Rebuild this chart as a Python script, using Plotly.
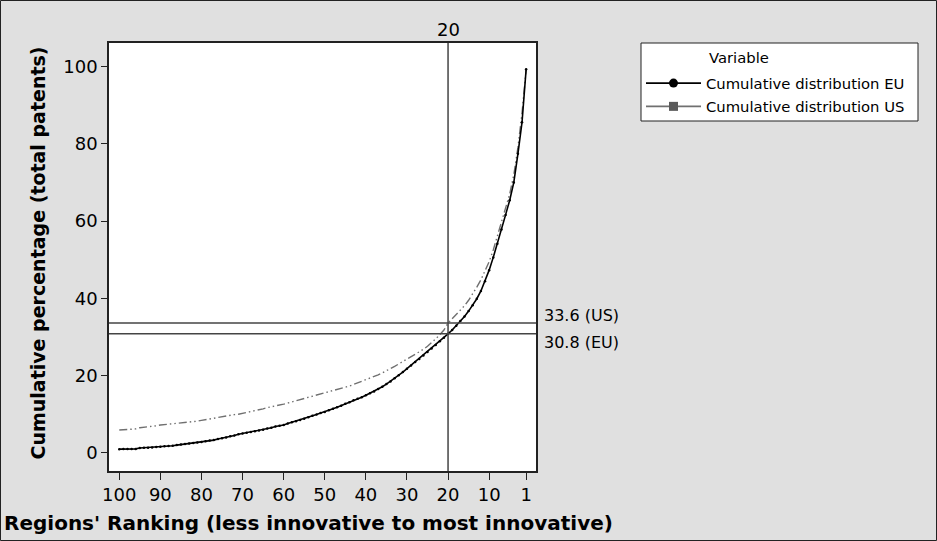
import plotly.graph_objects as go

# Regions' ranking (100 = least innovative ... 1 = most innovative)
ranks = list(range(100, 0, -1))

# Cumulative percentage, EU (ranks 100 -> 1)
eu_values = [
    0.96, 0.98, 1.0, 1.0, 1.02, 1.25, 1.3, 1.35, 1.4, 1.5,
    1.6, 1.7, 1.8, 1.85, 2.0, 2.15, 2.3, 2.45, 2.55, 2.7,
    2.8, 3.0, 3.2, 3.3, 3.6, 3.8, 4.0, 4.3, 4.5, 4.8,
    5.0, 5.2, 5.4, 5.6, 5.8, 6.0, 6.3, 6.5, 6.8, 7.0,
    7.2, 7.6, 7.9, 8.2, 8.5, 8.8, 9.2, 9.6, 9.9, 10.3,
    10.6, 11.0, 11.4, 11.8, 12.2, 12.7, 13.1, 13.6, 14.0, 14.4,
    14.9, 15.4, 15.9, 16.5, 17.1, 17.8, 18.5, 19.3, 20.1, 20.9,
    21.8, 22.6, 23.5, 24.3, 25.2, 26.1, 27.0, 27.9, 28.9, 29.8,
    30.8, 31.8, 32.9, 34.1, 35.3, 36.7, 38.2, 39.9, 41.9, 44.4,
    47.3, 50.6, 54.1, 57.8, 61.6, 65.4, 70.0, 77.4, 85.6, 99.3,
]

# Cumulative percentage, US (ranks 100 -> 1)
us_values = [
    5.9, 6.0, 6.1, 6.2, 6.2, 6.5, 6.6, 6.8, 6.9, 7.0,
    7.2, 7.3, 7.4, 7.5, 7.6, 7.7, 7.8, 8.0, 8.1, 8.2,
    8.4, 8.6, 8.8, 9.0, 9.2, 9.3, 9.5, 9.7, 9.9, 10.0,
    10.2, 10.4, 10.6, 10.9, 11.2, 11.4, 11.7, 11.9, 12.1, 12.3,
    12.6, 12.9, 13.2, 13.5, 13.8, 14.1, 14.4, 14.7, 15.0, 15.2,
    15.4, 15.7, 16.0, 16.3, 16.6, 16.9, 17.3, 17.7, 18.1, 18.4,
    18.8, 19.2, 19.7, 20.2, 20.7, 21.2, 21.8, 22.4, 23.0, 23.6,
    24.2, 24.8, 25.4, 26.1, 26.8, 27.6, 28.5, 29.5, 30.6, 31.8,
    33.6, 34.7, 35.8, 36.9, 38.1, 39.5, 41.1, 42.9, 44.8, 47.0,
    49.5, 52.5, 56.0, 59.5, 63.5, 67.0, 72.0, 79.0, 88.0, 99.2,
]

x_ticks = [100, 90, 80, 70, 60, 50, 40, 30, 20, 10, 1]
y_ticks = [0, 20, 40, 60, 80, 100]
ref_rank = 20
ref_us = 33.6
ref_eu = 30.8

FONT = "DejaVu Sans"
US_GRAY = "#707070"

# pixel helpers for paper coordinates (plot area: x 109..536, y 43..471)
def px(xp):
    return (xp - 109) / 427

def py(yp):
    return (471 - yp) / 428

fig = go.Figure()

fig.add_trace(go.Scatter(
    x=ranks, y=us_values, mode="lines", showlegend=False,
    line=dict(color=US_GRAY, width=1.4, dash="8px,3px,1.5px,3px,1.5px,3px"),
))
fig.add_trace(go.Scatter(
    x=ranks, y=eu_values, mode="lines+markers", showlegend=False,
    line=dict(color="black", width=1.6),
    marker=dict(symbol="circle", size=2.5, color="black"),
))

# legend entries
fig.add_trace(go.Scatter(
    x=[None], y=[None], mode="lines+markers", name="Cumulative distribution EU\u00a0",
    legendgroup="eu",
    line=dict(color="black", width=1.6),
    marker=dict(symbol="circle", size=9, color="black"),
))
fig.add_trace(go.Scatter(
    x=[None], y=[None], mode="lines+markers", name="Cumulative distribution US\u00a0",
    legendgroup="us",
    line=dict(color=US_GRAY, width=1.6),
    marker=dict(symbol="square", size=9, color="#5a5a5a"),
))

# reference lines
fig.add_shape(type="line", xref="x", yref="paper", x0=ref_rank, x1=ref_rank, y0=0, y1=1,
              line=dict(color="#444444", width=1.5))
for v in (ref_us, ref_eu):
    fig.add_shape(type="line", xref="paper", yref="y", x0=0, x1=1, y0=v, y1=v,
                  line=dict(color="#444444", width=1.5))

fig.add_annotation(x=ref_rank, xref="x", y=1, yref="paper", yanchor="bottom", xanchor="center",
                   yshift=1, text=str(ref_rank), showarrow=False,
                   font=dict(size=18, color="black", family=FONT))
fig.add_annotation(x=1, xref="paper", xanchor="left", yanchor="middle", xshift=6, y=ref_us,
                   yref="y", yshift=8, text=f"{ref_us} (US)", showarrow=False,
                   font=dict(size=16, color="black", family=FONT))
fig.add_annotation(x=1, xref="paper", xanchor="left", yanchor="middle", xshift=6, y=ref_eu,
                   yref="y", yshift=-9, text=f"{ref_eu} (EU)", showarrow=False,
                   font=dict(size=16, color="black", family=FONT))

# axis titles
fig.add_annotation(x=px(308), xref="paper", y=py(523), yref="paper",
                   xanchor="center", yanchor="middle",
                   text="<b>Regions' Ranking (less innovative to most innovative)</b>",
                   showarrow=False, font=dict(size=20, color="black", family=FONT))
fig.add_annotation(x=px(37.5), xref="paper", y=py(253), yref="paper", textangle=-90,
                   xanchor="center", yanchor="middle",
                   text="<b>Cumulative percentage (total patents)</b>",
                   showarrow=False, font=dict(size=19, color="black", family=FONT))

# figure border
fig.add_shape(type="rect", xref="paper", yref="paper",
              x0=px(0.5), x1=px(936.5), y0=py(540.5), y1=py(0.5),
              line=dict(color="#222222", width=1), layer="below")

# legend box and legend title
fig.add_shape(type="rect", xref="paper", yref="paper",
              x0=px(641), x1=px(918), y0=py(121), y1=py(43),
              line=dict(color="#222222", width=1), fillcolor="white", layer="above")
fig.add_annotation(x=px(707), xref="paper", y=py(58), yref="paper",
                   xanchor="left", yanchor="middle", text="Variable", showarrow=False,
                   font=dict(size=14.8, color="black", family=FONT))

fig.update_xaxes(
    range=[102.5, -1.4], tickvals=x_ticks, ticktext=[str(t) for t in x_ticks],
    showgrid=False, zeroline=False, showline=True, mirror=True,
    linecolor="#222222", linewidth=1.5, ticks="outside", ticklen=7,
    tickcolor="#222222", tickwidth=1.2,
    tickfont=dict(size=18, color="black", family=FONT),
)
fig.update_yaxes(
    range=[-4.7, 106.1], tickvals=y_ticks,
    showgrid=False, zeroline=False, showline=True, mirror=True,
    linecolor="#222222", linewidth=1.5, ticks="outside", ticklen=6,
    tickcolor="#222222", tickwidth=1.2,
    tickfont=dict(size=18, color="black", family=FONT),
)

fig.update_layout(
    width=937, height=541,
    margin=dict(l=109, r=401, t=43, b=70),
    paper_bgcolor="#e0e0e0", plot_bgcolor="white",
    font=dict(family=FONT, color="black"),
    legend=dict(
        x=px(641), xanchor="left", y=py(67), yanchor="top",
        bgcolor="rgba(0,0,0,0)", borderwidth=0,
        font=dict(size=14.8, color="black", family=FONT),
        itemwidth=55, tracegroupgap=1,
    ),
)

fig.write_html("out.html", config={"displayModeBar": False},
               post_script="document.body.style.margin='0px';")
